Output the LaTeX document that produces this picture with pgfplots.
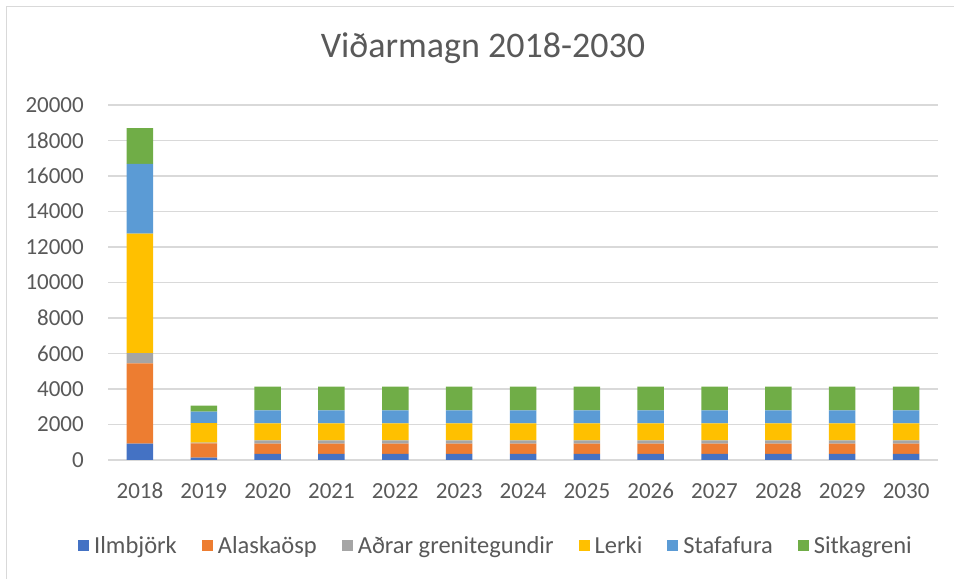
\documentclass[border=0pt]{standalone}
\usepackage{fontspec}
\setmainfont{Carlito}
\usepackage{pgfplots}
\pgfplotsset{compat=1.18}

\definecolor{cIlm}{HTML}{4472C4}
\definecolor{cAla}{HTML}{ED7D31}
\definecolor{cAdr}{HTML}{A5A5A5}
\definecolor{cLer}{HTML}{FFC000}
\definecolor{cSta}{HTML}{5B9BD5}
\definecolor{cSit}{HTML}{70AD47}
\definecolor{txt}{HTML}{595959}
\definecolor{grd}{HTML}{D9D9D9}

\begin{document}
\begin{tikzpicture}
\useasboundingbox (0,0) rectangle (954bp,579bp);
% chart frame (right and bottom edges are cut off in the reference)
\draw[grd, line width=1.2bp] (6.5bp,0) -- (6.5bp,572.5bp) -- (954bp,572.5bp);
\node[anchor=base, text=txt, font=\fontsize{36bp}{40bp}\selectfont, inner sep=0pt]
  at (483bp,521bp) {Viðarmagn 2018-2030};

\begin{axis}[
  at={(108bp,119bp)}, anchor=south west,
  width=830bp, height=355bp, scale only axis,
  ybar stacked, bar width=26.5bp,
  xmin=-0.5, xmax=12.5,
  ymin=0, ymax=20000,
  xtick={0,...,12},
  xticklabels={2018,2019,2020,2021,2022,2023,2024,2025,2026,2027,2028,2029,2030},
  ytick={0,2000,...,20000},
  scaled y ticks=false,
  axis line style={draw=none},
  major tick length=0pt,
  ymajorgrids, grid style={grd, line width=1.2bp},
  tick label style={text=txt, font=\fontsize{23bp}{26bp}\selectfont},
  yticklabel style={inner sep=0pt, anchor=east, xshift=-24bp},
  xticklabel style={inner sep=0pt, anchor=north, yshift=-23bp},
  /pgf/number format/.cd, fixed, precision=0, set thousands separator={}, assume math mode=true,
  /pgfplots/.cd,
  legend columns=6,
  legend style={at={(0.4675,-0.242)}, anchor=center, draw=none, fill=none,
    font=\fontsize{24.5bp}{28bp}\selectfont, text=txt,
    inner sep=0pt, nodes={inner sep=2bp},
    /tikz/every odd column/.append style={column sep=3bp},
    /tikz/every even column/.append style={column sep=23bp}},
  legend image code/.code={\fill[#1] (0bp,-5.5bp) rectangle (11bp,5.5bp);},
  every axis plot/.append style={draw=none},
]
\addplot[fill=cIlm] coordinates {(0,920)(1,130)(2,350)(3,350)(4,350)(5,350)(6,350)(7,350)(8,350)(9,350)(10,350)(11,350)(12,350)};
\addplot[fill=cAla] coordinates {(0,4530)(1,800)(2,570)(3,570)(4,570)(5,570)(6,570)(7,570)(8,570)(9,570)(10,570)(11,570)(12,570)};
\addplot[fill=cAdr] coordinates {(0,570)(1,50)(2,190)(3,190)(4,190)(5,190)(6,190)(7,190)(8,190)(9,190)(10,190)(11,190)(12,190)};
\addplot[fill=cLer] coordinates {(0,6730)(1,1100)(2,960)(3,960)(4,960)(5,960)(6,960)(7,960)(8,960)(9,960)(10,960)(11,960)(12,960)};
\addplot[fill=cSta] coordinates {(0,3930)(1,640)(2,730)(3,730)(4,730)(5,730)(6,730)(7,730)(8,730)(9,730)(10,730)(11,730)(12,730)};
\addplot[fill=cSit] coordinates {(0,2020)(1,350)(2,1330)(3,1330)(4,1330)(5,1330)(6,1330)(7,1330)(8,1330)(9,1330)(10,1330)(11,1330)(12,1330)};
\legend{Ilmbjörk, Alaskaösp, Aðrar grenitegundir, Lerki, Stafafura, Sitkagreni}
\end{axis}
\end{tikzpicture}
\end{document}
